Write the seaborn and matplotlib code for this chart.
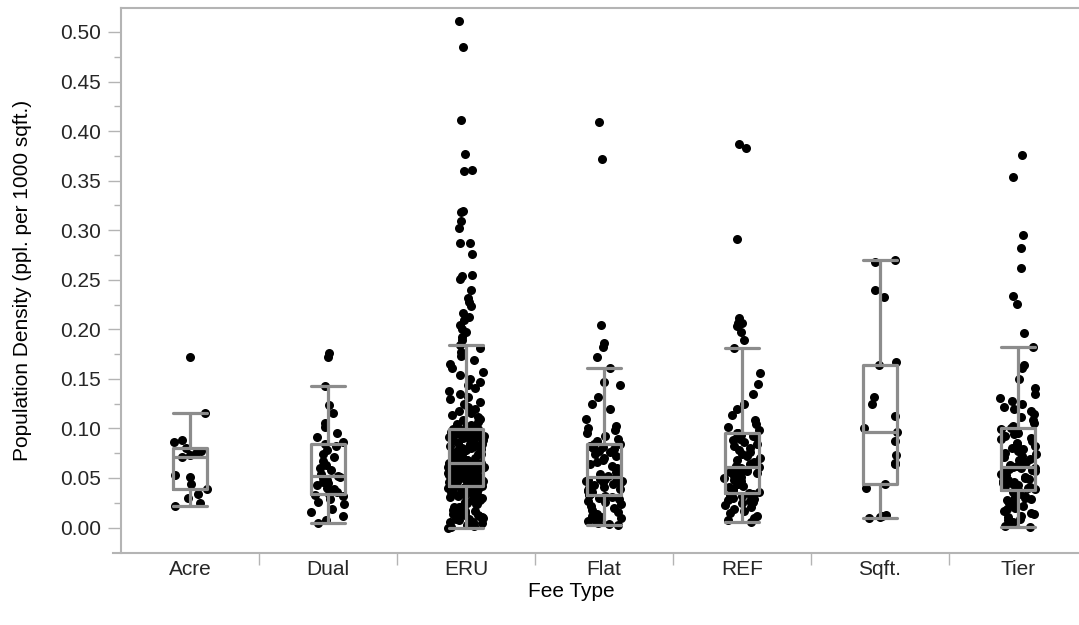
import numpy as np
import pandas as pd
import matplotlib
matplotlib.use("Agg")
import matplotlib.pyplot as plt
from matplotlib.ticker import FixedLocator, FormatStrFormatter
import seaborn as sns

categories = ["Acre", "Dual", "ERU", "Flat", "REF", "Sqft.", "Tier"]

# population density readings per fee type (ppl. per 1000 sqft.)
acre = [0.0215, 0.0245, 0.030, 0.034, 0.0387, 0.044, 0.051, 0.053, 0.071,
        0.073, 0.075, 0.077, 0.080, 0.0865, 0.088, 0.116, 0.172]

dual = [0.005, 0.008, 0.012, 0.016, 0.019, 0.024, 0.026, 0.029, 0.032, 0.033,
        0.0343,
        0.036, 0.039, 0.040, 0.043, 0.045, 0.046, 0.048, 0.050, 0.051,
        0.0518,
        0.054, 0.058, 0.060, 0.063, 0.067, 0.071, 0.074, 0.078, 0.082,
        0.0838,
        0.086, 0.091, 0.095, 0.101, 0.105, 0.116, 0.124,
        0.143, 0.172, 0.176]

eru = [0.000, 0.001, 0.002, 0.003, 0.003, 0.005, 0.006, 0.006, 0.008, 0.009,
       0.009, 0.010, 0.011, 0.012, 0.013, 0.013, 0.014, 0.015, 0.016, 0.017,
       0.017, 0.018, 0.019, 0.020, 0.021, 0.021, 0.022, 0.023, 0.024, 0.024,
       0.025, 0.026, 0.027, 0.028, 0.028, 0.029, 0.030, 0.031, 0.031, 0.032,
       0.033, 0.033, 0.034, 0.035, 0.035, 0.036, 0.036, 0.037, 0.038, 0.038,
       0.039, 0.039, 0.040, 0.040, 0.040, 0.041, 0.041, 0.041, 0.041, 0.041,
       0.0417,
       0.042, 0.042, 0.043, 0.043, 0.044, 0.044, 0.044, 0.045, 0.045, 0.046,
       0.046, 0.047, 0.047, 0.048, 0.048, 0.048, 0.049, 0.049, 0.050, 0.050,
       0.051, 0.051, 0.052, 0.052, 0.052, 0.053, 0.053, 0.054, 0.054, 0.055,
       0.055, 0.056, 0.056, 0.057, 0.057, 0.057, 0.058, 0.058, 0.059, 0.059,
       0.060, 0.060, 0.061, 0.061, 0.061, 0.062, 0.062, 0.063, 0.063, 0.064,
       0.064, 0.064, 0.064, 0.065, 0.065, 0.065, 0.065, 0.065, 0.065,
       0.0653,
       0.066, 0.066, 0.067, 0.068, 0.068, 0.069, 0.070, 0.070, 0.071, 0.072,
       0.072, 0.073, 0.074, 0.074, 0.075, 0.076, 0.076, 0.077, 0.078, 0.078,
       0.079, 0.080, 0.080, 0.081, 0.082, 0.082, 0.083, 0.084, 0.084, 0.085,
       0.086, 0.086, 0.087, 0.088, 0.088, 0.089, 0.090, 0.090, 0.091, 0.092,
       0.092, 0.093, 0.093, 0.094, 0.094, 0.095, 0.095, 0.096, 0.096, 0.097,
       0.097, 0.097, 0.098, 0.098, 0.098, 0.098, 0.099, 0.099, 0.099,
       0.099,
       0.100, 0.101, 0.103, 0.104, 0.106, 0.108, 0.110, 0.112, 0.114, 0.116,
       0.118, 0.120, 0.122, 0.125, 0.127, 0.130, 0.132, 0.135, 0.138, 0.141,
       0.144, 0.147, 0.150, 0.154, 0.157, 0.161, 0.165, 0.169, 0.173, 0.177,
       0.181,
       0.184,
       0.189, 0.1925, 0.1976, 0.200, 0.2043, 0.2094, 0.212, 0.2162, 0.2235,
       0.228, 0.2313, 0.2397, 0.2505, 0.254, 0.2548, 0.2758, 0.287, 0.2875,
       0.3026, 0.3094, 0.318, 0.3195, 0.360, 0.361, 0.3768, 0.4114, 0.4845,
       0.5107]

flat = [0.003, 0.004, 0.005, 0.007, 0.008, 0.010, 0.011, 0.012, 0.014, 0.016,
        0.018, 0.020, 0.022, 0.024, 0.026, 0.027, 0.029, 0.030, 0.031, 0.032,
        0.0328,
        0.034, 0.035, 0.036, 0.037, 0.038, 0.039, 0.040, 0.041, 0.042, 0.043,
        0.044, 0.045, 0.046, 0.047, 0.047, 0.048, 0.049, 0.049, 0.050,
        0.0505,
        0.052, 0.054, 0.056, 0.058, 0.060, 0.062, 0.064, 0.066, 0.068, 0.070,
        0.072, 0.074, 0.076, 0.077, 0.079, 0.080, 0.081, 0.082, 0.084,
        0.0845,
        0.087, 0.089, 0.092, 0.095, 0.098, 0.100, 0.102, 0.110, 0.120, 0.125,
        0.132, 0.144, 0.147,
        0.161,
        0.1717, 0.1825, 0.1859, 0.2044, 0.372, 0.409]

ref = [0.006, 0.008, 0.010, 0.012, 0.015, 0.017, 0.019, 0.021, 0.023, 0.025,
       0.026, 0.027, 0.028, 0.029, 0.030, 0.031, 0.032, 0.033, 0.034, 0.034,
       0.035,
       0.036, 0.038, 0.039, 0.041, 0.042, 0.044, 0.045, 0.047, 0.048, 0.050,
       0.051, 0.052, 0.054, 0.055, 0.056, 0.057, 0.058, 0.059, 0.060,
       0.0606,
       0.062, 0.064, 0.066, 0.068, 0.070, 0.072, 0.074, 0.076, 0.078, 0.080,
       0.082, 0.084, 0.086, 0.088, 0.089, 0.091, 0.092, 0.093, 0.095,
       0.0956,
       0.098, 0.101, 0.104, 0.108, 0.114, 0.120, 0.125, 0.135, 0.145, 0.1556,
       0.1814,
       0.189, 0.197, 0.2033, 0.2067, 0.2067, 0.211, 0.291, 0.383, 0.387]

sqft = [0.0097, 0.011, 0.012, 0.013, 0.040, 0.0444, 0.064, 0.065, 0.073,
        0.087, 0.0966, 0.100, 0.113, 0.125, 0.132, 0.164, 0.167, 0.233,
        0.240, 0.268, 0.270]

tier = [0.0006, 0.002, 0.004, 0.006, 0.008, 0.009, 0.011, 0.012, 0.014, 0.015,
        0.017, 0.019, 0.020, 0.022, 0.023, 0.025, 0.026, 0.028, 0.029, 0.030,
        0.031, 0.032, 0.034, 0.035, 0.036,
        0.038,
        0.039, 0.040, 0.041, 0.042, 0.043, 0.044, 0.045, 0.046, 0.047, 0.048,
        0.049, 0.050, 0.051, 0.052, 0.053, 0.054, 0.055, 0.056, 0.057, 0.058,
        0.058, 0.059, 0.060, 0.060,
        0.0606,
        0.062, 0.063, 0.065, 0.066, 0.068, 0.069, 0.071, 0.072, 0.074, 0.075,
        0.077, 0.079, 0.080, 0.082, 0.084, 0.085, 0.087, 0.089, 0.090, 0.092,
        0.094, 0.095, 0.097, 0.099,
        0.100,
        0.102, 0.105, 0.108, 0.112, 0.115, 0.118, 0.120, 0.122, 0.125, 0.128,
        0.131, 0.135, 0.141, 0.150, 0.161, 0.164,
        0.1818,
        0.196, 0.2256, 0.234, 0.2616, 0.2824, 0.2953, 0.354, 0.376]

y_ticks = [0.00, 0.05, 0.10, 0.15, 0.20, 0.25, 0.30, 0.35, 0.40, 0.45, 0.50]

groups = [acre, dual, eru, flat, ref, sqft, tier]
rows = [(cat, v) for cat, vals in zip(categories, groups) for v in vals]
df = pd.DataFrame(rows, columns=["fee", "density"])

# points beyond the 1.5*IQR fences sit in sparse regions -> narrower jitter
q1 = df.groupby("fee")["density"].transform(lambda s: s.quantile(0.25))
q3 = df.groupby("fee")["density"].transform(lambda s: s.quantile(0.75))
iqr = q3 - q1
outside = (df["density"] > q3 + 1.5 * iqr) | (df["density"] < q1 - 1.5 * iqr)

sns.set_theme(style="white")
plt.rcParams["font.family"] = ["Liberation Sans", "DejaVu Sans"]

axis_grey = "#b4b4b4"
box_grey = "#8c8c8c"
fs = 15

fig = plt.figure(figsize=(10.79, 6.25), dpi=100)
ax = fig.add_axes([121 / 1079, 72 / 625, 966 / 1079, 545 / 625])

np.random.seed(7)
sns.stripplot(data=df[~outside], x="fee", y="density", order=categories,
              color="black", jitter=0.13, size=6.5, linewidth=0, zorder=1,
              ax=ax)
sns.stripplot(data=df[outside], x="fee", y="density", order=categories,
              color="black", jitter=0.05, size=6.5, linewidth=0, zorder=1,
              ax=ax)
line_kw = dict(zorder=3)
sns.boxplot(data=df, x="fee", y="density", order=categories, width=0.25,
            fill=False, color=box_grey, linewidth=2.3, showfliers=False,
            capwidths=0.25, boxprops=line_kw, whiskerprops=line_kw,
            capprops=line_kw, medianprops=line_kw, ax=ax)

ax.set_xlim(-0.5, 6.5)
ax.set_ylim(-0.0257, 0.5242)

ax.yaxis.set_major_locator(FixedLocator(y_ticks))
ax.yaxis.set_minor_locator(FixedLocator([t + 0.025 for t in y_ticks[:-1]]))
ax.yaxis.set_major_formatter(FormatStrFormatter("%.2f"))
ax.xaxis.set_minor_locator(FixedLocator([i + 0.5 for i in range(6)]))

ax.tick_params(axis="y", which="major", direction="out", length=9.5, width=1,
               color=axis_grey, labelsize=fs, pad=5, left=True)
ax.tick_params(axis="y", which="minor", direction="out", length=5, width=1,
               color=axis_grey, left=True)
ax.tick_params(axis="x", which="major", length=0, labelsize=fs, pad=5)
ax.tick_params(axis="x", which="minor", direction="out", length=8.6, width=1,
               color=axis_grey, bottom=True)

for side in ["top", "left", "bottom"]:
    ax.spines[side].set_color(axis_grey)
    ax.spines[side].set_linewidth(1.5)
ax.spines["right"].set_visible(False)
ax.spines["bottom"].set_bounds(-0.558, 6.5)

ax.set_xlabel("Fee Type", fontsize=fs, color="black")
ax.set_ylabel("Population Density (ppl. per 1000 sqft.)", fontsize=fs,
              color="black")
ax.xaxis.set_label_coords(0.466, -0.054)
ax.yaxis.set_label_coords(-0.092, 0.5)

fig.savefig("out.png", dpi=100)
